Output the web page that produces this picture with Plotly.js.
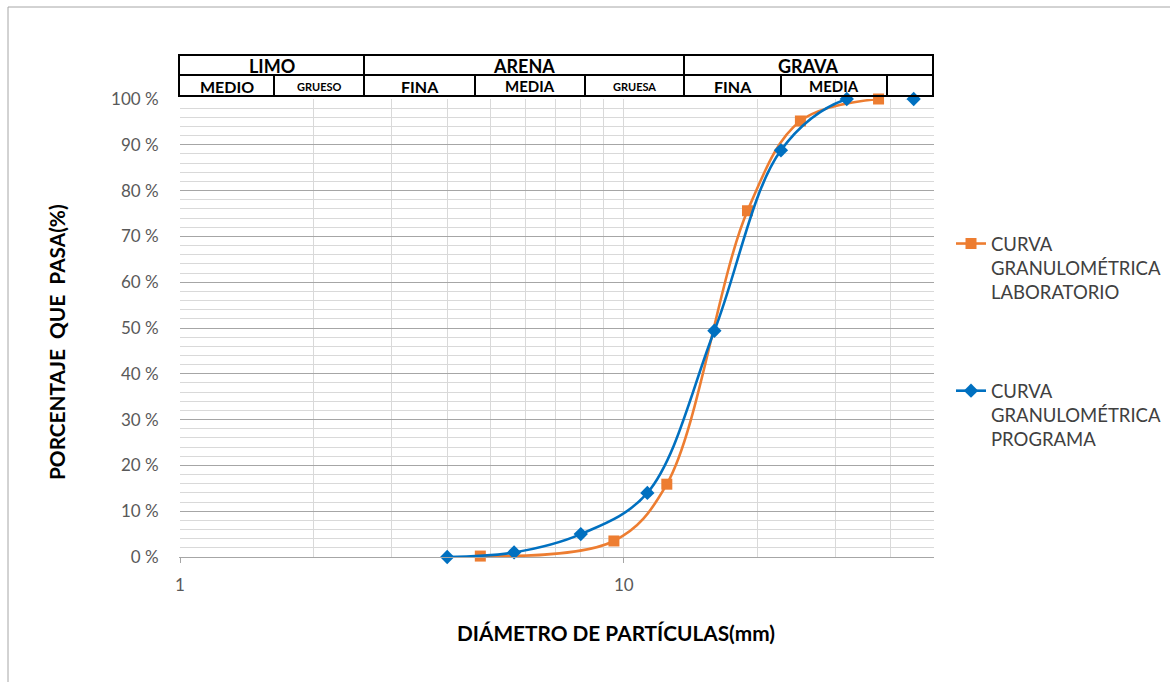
<!DOCTYPE html>
<html>
<head>
<meta charset="utf-8">
<script src="https://cdn.plot.ly/plotly-3.0.1.min.js"></script>
<style>
  html, body { margin: 0; padding: 0; background: #ffffff; }
  #chart { width: 1170px; height: 682px; }
</style>
</head>
<body>
<div id="chart"></div>
<script>
// Sieve results: particle diameter (mm) and fraction passing
const labDiam  = [4.75, 9.5, 12.5, 19, 25, 37.5];
const labPass  = [0.002, 0.035, 0.159, 0.756, 0.952, 1.0];
const progDiam = [4.0, 5.66, 8.0, 11.3, 16.0, 22.6, 31.8, 45.0];
const progPass = [0.0, 0.010, 0.050, 0.140, 0.494, 0.888, 1.0, 1.0];

const labName  = 'CURVA<br>GRANULOMÉTRICA<br>LABORATORIO';
const progName = 'CURVA<br>GRANULOMÉTRICA<br>PROGRAMA';

const xTitle = 'DIÁMETRO DE PARTÍCULAS(mm)';
const yTitle = 'PORCENTAJE\u00a0\u00a0QUE\u00a0\u00a0PASA(%)';

// Axis ticks
const yTickVals = [0, 0.1, 0.2, 0.3, 0.4, 0.5, 0.6, 0.7, 0.8, 0.9, 1.0];
const yTickText = ['0 %', '10 %', '20 %', '30 %', '40 %', '50 %', '60 %', '70 %', '80 %', '90 %', '100 %'];
const xTickVals = [1, 10];
const xTickText = ['1', '10'];
const xMinorVals = [2, 3, 4, 5, 6, 7, 8, 9, 20, 30, 40, 50];

// Soil classification header labels
const headerTop    = ['LIMO', 'ARENA', 'GRAVA'];
const headerBottom = ['MEDIO', 'GRUESO', 'FINA', 'MEDIA', 'GRUESA', 'FINA', 'MEDIA', ''];

// ---- page geometry ----
const W = 1170, H = 682;
const M = { l: 180, r: 236, t: 99, b: 125, autoexpand: false };
const PW = W - M.l - M.r;
const PH = H - M.t - M.b;
const px = x => (x - M.l) / PW;            // pixel column -> paper x
const py = y => (H - M.b - y) / PH;        // pixel row    -> paper y

// header table geometry (pixels)
const tblTop = 55, tblMid = 75, tblBot = 96;
const topEdges = [179, 364, 684, 933];
const botEdges = [179, 274, 364, 475, 585, 684, 781, 887, 933];
const topSizes = [18, 18, 18];
const botSizes = [16, 11, 16, 15, 11, 16, 15, 15];

const FONT = 'Lato, Carlito, Calibri, "Open Sans", sans-serif';

const shapes = [];
const annotations = [];

// outer chart frame
shapes.push({ type: 'rect', xref: 'paper', yref: 'paper',
  x0: px(8), x1: px(1200), y0: py(7), y1: py(720),
  line: { color: '#a6a6a6', width: 1 }, fillcolor: 'rgba(0,0,0,0)', layer: 'below' });

// header table borders
const tblLine = { color: '#000000', width: 2 };
shapes.push({ type: 'rect', xref: 'paper', yref: 'paper',
  x0: px(topEdges[0]), x1: px(topEdges[topEdges.length - 1]), y0: py(tblBot), y1: py(tblTop),
  line: tblLine, fillcolor: 'rgba(0,0,0,0)' });
shapes.push({ type: 'line', xref: 'paper', yref: 'paper',
  x0: px(topEdges[0]), x1: px(topEdges[topEdges.length - 1]), y0: py(tblMid), y1: py(tblMid), line: tblLine });
topEdges.slice(1, -1).forEach(e => shapes.push({ type: 'line', xref: 'paper', yref: 'paper',
  x0: px(e), x1: px(e), y0: py(tblTop), y1: py(tblMid), line: tblLine }));
botEdges.slice(1, -1).forEach(e => shapes.push({ type: 'line', xref: 'paper', yref: 'paper',
  x0: px(e), x1: px(e), y0: py(tblMid), y1: py(tblBot), line: tblLine }));

headerTop.forEach((t, i) => annotations.push({
  xref: 'paper', yref: 'paper', x: px((topEdges[i] + topEdges[i + 1]) / 2), y: py((tblTop + tblMid) / 2 + 1),
  xanchor: 'center', yanchor: 'middle', showarrow: false, text: '<b>' + t + '</b>',
  font: { family: FONT, size: topSizes[i], color: '#000000' } }));
headerBottom.forEach((t, i) => { if (!t) return; annotations.push({
  xref: 'paper', yref: 'paper', x: px((botEdges[i] + botEdges[i + 1]) / 2), y: py((tblMid + tblBot) / 2 + 1),
  xanchor: 'center', yanchor: 'middle', showarrow: false, text: '<b>' + t + '</b>',
  font: { family: FONT, size: botSizes[i], color: '#000000' } }); });

// axis titles
annotations.push({ xref: 'paper', yref: 'paper', x: px(616), y: py(632),
  xanchor: 'center', yanchor: 'middle', showarrow: false, text: '<b>' + xTitle + '</b>',
  font: { family: FONT, size: 20.8, color: '#000000' } });
annotations.push({ xref: 'paper', yref: 'paper', x: px(56), y: py(342),
  xanchor: 'center', yanchor: 'middle', showarrow: false, textangle: -90, text: '<b>' + yTitle + '</b>',
  font: { family: FONT, size: 20.8, color: '#000000' } });

const traces = [
  { x: labDiam, y: labPass, name: labName, type: 'scatter', mode: 'lines+markers',
    legendgroup: 'lab', cliponaxis: false,
    line: { color: '#ED7D31', width: 2.6, shape: 'spline', smoothing: 1 },
    marker: { symbol: 'square', size: 11, color: '#ED7D31' } },
  { x: progDiam, y: progPass, name: progName, type: 'scatter', mode: 'lines+markers',
    legendgroup: 'prog', cliponaxis: false,
    line: { color: '#0070C0', width: 2.6, shape: 'spline', smoothing: 1 },
    marker: { symbol: 'diamond', size: 11, color: '#0070C0' } }
];

const layout = {
  width: W, height: H,
  margin: M,
  paper_bgcolor: '#ffffff', plot_bgcolor: '#ffffff',
  font: { family: FONT, color: '#595959' },
  showlegend: true,
  legend: {
    x: px(951), xanchor: 'left', y: py(225), yanchor: 'top',
    valign: 'top', tracegroupgap: 72, bgcolor: 'rgba(0,0,0,0)',
    font: { family: FONT, size: 18.5, color: '#404040' }
  },
  xaxis: {
    type: 'log', range: [0, Math.log10(50)],
    tickmode: 'array', tickvals: xTickVals, ticktext: xTickText,
    ticks: 'outside', ticklen: 5, tickcolor: '#a6a6a6', tickwidth: 1,
    ticklabelstandoff: 8,
    tickfont: { family: FONT, size: 17, color: '#595959' },
    showline: true, linecolor: '#a6a6a6', linewidth: 1,
    showgrid: true, gridcolor: '#d9d9d9', gridwidth: 1,
    minor: { tickmode: 'array', tickvals: xMinorVals, showgrid: true, gridcolor: '#d9d9d9', gridwidth: 1, ticks: '' },
    zeroline: false, fixedrange: true
  },
  yaxis: {
    range: [0, 1],
    tickmode: 'array', tickvals: yTickVals, ticktext: yTickText,
    ticks: '', ticklabelstandoff: 17,
    tickfont: { family: FONT, size: 17, color: '#595959' },
    showline: true, linecolor: '#ffffff', linewidth: 1,
    showgrid: true, gridcolor: '#a6a6a6', gridwidth: 1,
    minor: { dtick: 0.02, showgrid: true, gridcolor: '#d9d9d9', gridwidth: 1, ticks: '' },
    zeroline: false, fixedrange: true
  },
  yaxis2: {
    overlaying: 'y', side: 'right', range: [0, 1],
    tickmode: 'array', tickvals: yTickVals, showticklabels: false,
    ticks: 'outside', ticklen: 6, tickcolor: '#a6a6a6', tickwidth: 1,
    showline: true, linecolor: '#a6a6a6', linewidth: 1,
    showgrid: false, zeroline: false, fixedrange: true
  },
  shapes: shapes,
  annotations: annotations
};

Plotly.newPlot('chart', traces, layout, { displayModeBar: false, staticPlot: true });
</script>
</body>
</html>
